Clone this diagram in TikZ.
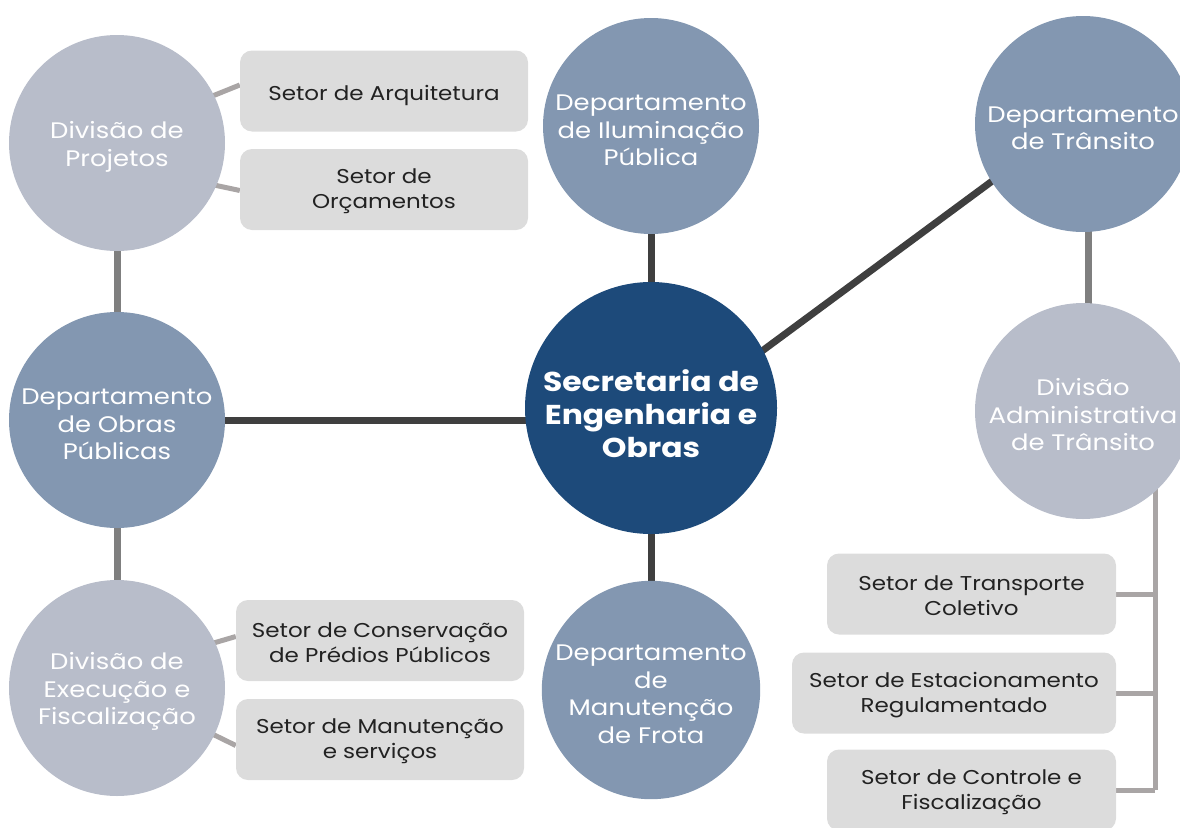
\documentclass[tikz,border=0pt]{standalone}
\usepackage{fontspec}
\setmainfont{Poppins}[FakeStretch=1.15]
\usetikzlibrary{backgrounds,calc}
\definecolor{secblue}{HTML}{1D4A7A}
\definecolor{depblue}{HTML}{8397B1}
\definecolor{divgray}{HTML}{B8BDCA}
\definecolor{boxgray}{HTML}{DCDCDC}
\definecolor{darkline}{HTML}{3F3F3F}
\definecolor{midline}{HTML}{7F7F7F}
\definecolor{lightline}{HTML}{A9A5A5}
\definecolor{txtdark}{HTML}{222222}
\newcommand{\liftc}{\rule{0pt}{24.5pt}}
\newcommand{\lifts}{\rule{0pt}{34pt}}
\newcommand{\liftb}{\rule{0pt}{19pt}}
\begin{document}
\begin{tikzpicture}[x=1pt,y=-1pt,
  secnode/.style={circle, fill=secblue, minimum size=252pt, inner sep=0pt, text=white, align=center, font=\fontsize{27.3}{33}\selectfont\bfseries},
  depnode/.style={circle, fill=depblue, minimum size=216pt, inner sep=0pt, text=white, align=center, font=\fontsize{22.5}{27.5}\selectfont},
  divnode/.style={depnode, fill=divgray},
  setorbox/.style={rounded corners=12pt, fill=boxgray, minimum width=288pt, minimum height=81pt, inner sep=0pt, text=txtdark, align=center, font=\fontsize{20}{25}\selectfont},
  strong/.style={draw=darkline, line width=7pt},
  medium/.style={draw=midline, line width=7pt},
  light/.style={draw=lightline, line width=5pt}
]
\useasboundingbox (0,0) rectangle (1180,827);
\clip (0,0) rectangle (1180,827);

% circles
\node[secnode] (sec) at (651,408) {\lifts Secretaria de\\Engenharia e\\Obras};
\node[depnode] (ilum) at (651,126) {\liftc Departamento\\de Iluminação\\Pública};
\node[depnode] (frota) at (651,690) {\liftc Departamento\\de\\Manutenção\\de Frota};
\node[depnode] (obras) at (117,420) {\liftc Departamento\\de Obras\\Públicas};
\node[depnode] (trans) at (1083,124) {\liftc Departamento\\de Trânsito};
\node[divnode] (proj) at (117,143) {\liftc Divisão de\\Projetos};
\node[divnode] (exec) at (117,688) {\liftc Divisão de\\Execução e\\Fiscalização};
\node[divnode] (divadm) at (1083,411) {\liftc Divisão\\Administrativa\\de Trânsito};

% boxes
\node[setorbox] (arq) at (384,91) {\rule{0pt}{24.5pt}Setor de Arquitetura};
\node[setorbox] (orc) at (384,189.5) {\liftb Setor de\\Orçamentos};
\node[setorbox] (cons) at (380,640.5) {\liftb Setor de Conservação\\de Prédios Públicos};
\node[setorbox] (manut) at (380,739.5) {\liftb Setor de Manutenção\\e serviços};
\node[setorbox, minimum width=289pt] (transp) at (971.5,594) {\liftb Setor de Transporte\\Coletivo};
\node[setorbox, minimum width=324pt] (estac) at (954,693) {\liftb Setor de Estacionamento\\Regulamentado};
\node[setorbox, minimum width=289pt] (ctrl) at (971.5,790) {\liftb Setor de Controle e\\Fiscalização};

% free ends inside circles
\coordinate (projA) at (200,101);
\coordinate (projB) at (200,182);
\coordinate (execA) at (200,647);
\coordinate (execB) at (200,728);
\coordinate (busTop) at (1155,480);

\begin{pgfonlayer}{background}
\draw[strong] (obras.east) -- (obras.east -| sec.center);
\draw[strong] (sec) -- (ilum);
\draw[strong] (sec) -- (frota);
\draw[strong] ([yshift=-25pt]sec.center) -- ([yshift=10pt]trans.center);
\draw[medium] (proj) -- (obras);
\draw[medium] (obras) -- (exec);
\draw[medium] (trans.center) ++(5,0) coordinate (tx) -- (tx |- divadm.center);
\draw[light] ([yshift=6pt]arq.west) -- (projA);
\draw[light] ([yshift=-1pt]orc.west) -- (projB);
\draw[light] ([yshift=4pt]cons.west) -- (execA);
\draw[light] ([yshift=-6pt]manut.west) -- (execB);
\draw[light] (busTop) -- (busTop |- ctrl.east);
\draw[light] (transp.east) -- (transp.east -| busTop);
\draw[light] (estac.east) -- (estac.east -| busTop);
\draw[light] (ctrl.east) -- (ctrl.east -| busTop);
\end{pgfonlayer}
\end{tikzpicture}
\end{document}
